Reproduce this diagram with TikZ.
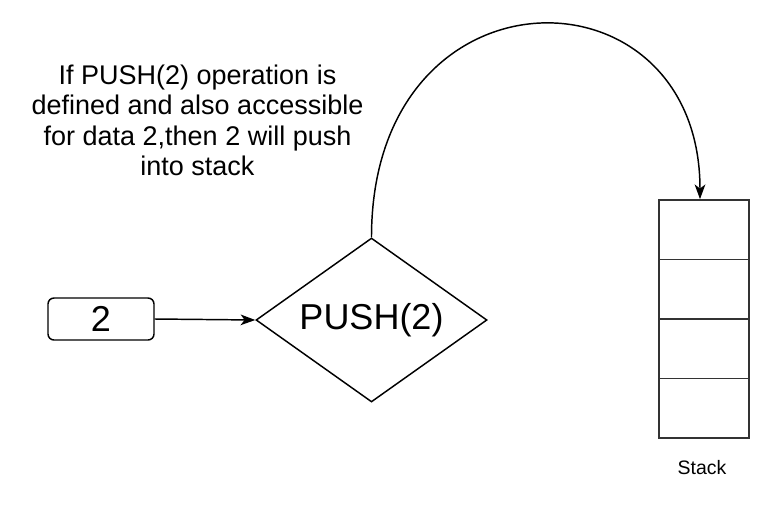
\documentclass[tikz,border=0pt]{standalone}
\usepackage{fontspec}
\setmainfont{Liberation Sans}
\usetikzlibrary{shapes.geometric,arrows.meta}
\tikzset{
  ln/.style={line width=1.1pt, black},
  tip/.style={-{Stealth[length=11pt,width=8pt,inset=3pt]}},
  databox/.style={draw, ln, rounded corners=4.5pt, minimum width=79.5pt, minimum height=31.5pt, inner sep=0pt, font=\fontsize{27}{30}\selectfont},
  opdiamond/.style={draw, ln, diamond, aspect=1.41, minimum width=173.25pt, minimum height=123pt, inner sep=0pt, font=\fontsize{27}{30}\selectfont},
  cell/.style={draw=black!80, line width=1.3pt, minimum width=67.5pt, minimum height=44.6pt, inner sep=0pt},
  note/.style={align=center, font=\fontsize{20.25}{22.8}\selectfont, inner sep=0pt},
  small/.style={font=\fontsize{14.6}{16}\selectfont, inner sep=0pt}
}
\begin{document}
\begin{tikzpicture}[x=0.75pt,y=-0.75pt]
\useasboundingbox (0,0) rectangle (775,504);
\node[databox] (d) at (101,319) {2};
\node[opdiamond] (p) at (371.5,320) {PUSH(2)};
\node[cell] (s1) at (704,229.75) {};
\node[cell] (s2) at (704,289.25) {};
\node[cell] (s3) at (704,348.75) {};
\node[cell] (s4) at (704,408.25) {};
\node[small] (lbl) at (702,468) {Stack};
\node[note] (t) at (197.5,120.5) {If PUSH(2) operation is\\defined and also accessible\\for data 2,then 2 will push\\into stack};
\draw[ln, tip] (d.east) -- (p.west);
\draw[ln, tip] (p.north) .. controls (371.5,-40) and (700,-40) .. ([xshift=-3pt]s1.north);
\end{tikzpicture}
\end{document}
